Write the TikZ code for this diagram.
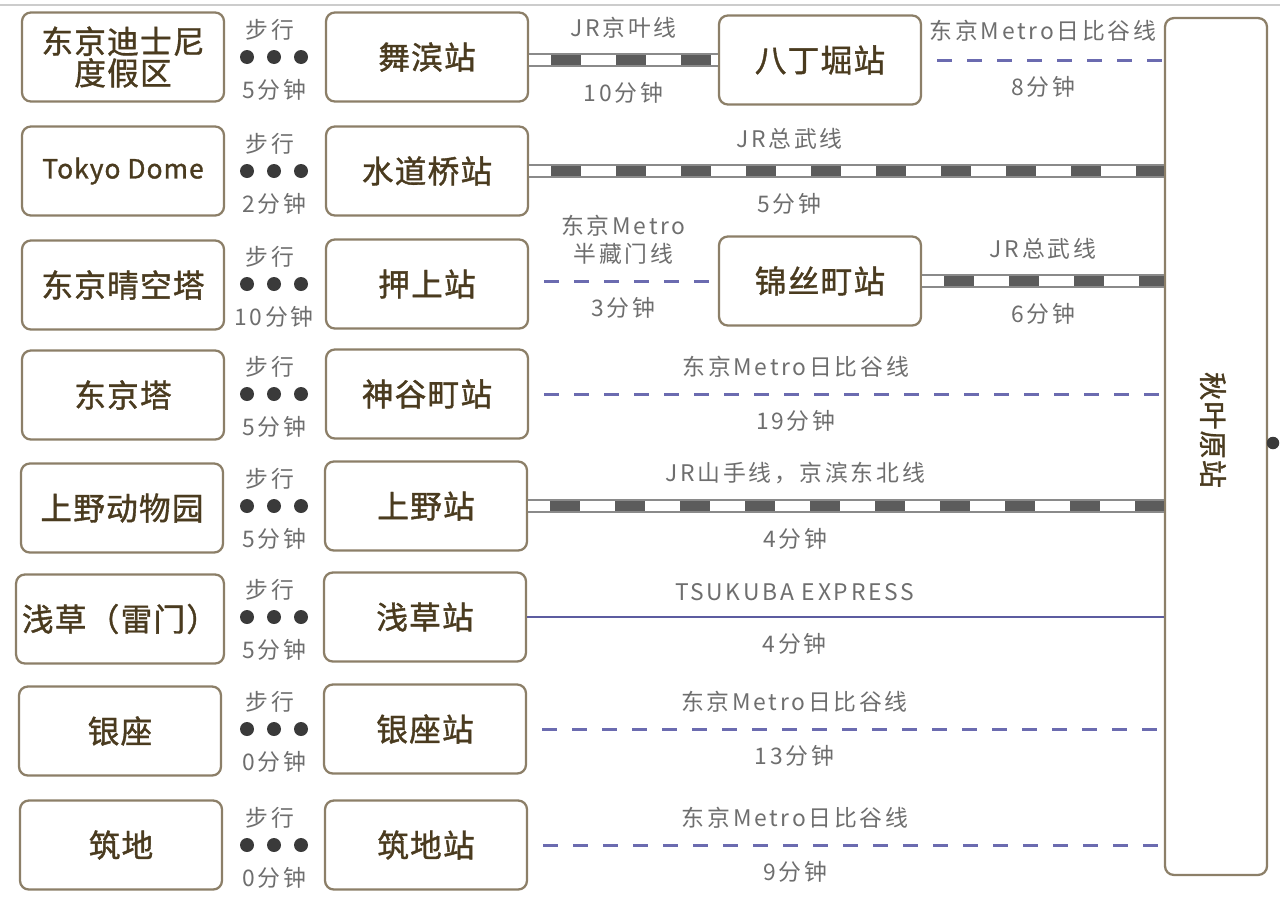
\documentclass[tikz,border=0pt]{standalone}
\usepackage{fontspec}
\setmainfont{Noto Sans CJK SC}
\newfontfamily\boxfont[LetterSpace=4, FakeBold=1.2]{Noto Sans CJK SC}
\newfontfamily\notefont[LetterSpace=12]{Noto Sans CJK SC}
\usetikzlibrary{positioning}

\definecolor{boxline}{HTML}{8C7F68}
\definecolor{boxtext}{HTML}{4A3B1F}
\definecolor{notegray}{HTML}{6E6E6E}
\definecolor{walkgray}{HTML}{3A3A3A}
\definecolor{trackedge}{HTML}{8A8A8A}
\definecolor{trackdark}{HTML}{5C5C5C}
\definecolor{metroblue}{HTML}{6B6BB0}
\definecolor{txblue}{HTML}{5C5CA0}

\tikzset{
  spot/.style={draw=boxline, line width=1.3pt, rounded corners=5pt, fill=white,
    minimum width=4.04cm, minimum height=1.78cm, align=center, text=boxtext,
    font=\boxfont\fontsize{18}{22}\selectfont},
  hub/.style={draw=boxline, line width=1.3pt, rounded corners=5pt, fill=white,
    minimum width=2.04cm, minimum height=17.14cm},
  walkdot/.style={circle, fill=walkgray, inner sep=0pt, minimum size=0.28cm},
  note/.style={text=notegray, inner sep=0pt, font=\notefont\fontsize{13}{16}\selectfont},
  track/.style={draw=trackedge, line width=0.28cm,
    postaction={draw=white, line width=0.2cm},
    postaction={draw=trackdark, line width=0.2cm, dash pattern=on 0.6cm off 0.7cm, dash phase=0.86cm}},
  metro/.style={draw=metroblue, line width=0.06cm, dash pattern=on 0.3cm off 0.3cm, dash phase=0.3cm},
  tx/.style={draw=txblue, line width=0.05cm}
}

\begin{document}
\begin{tikzpicture}[x=0.02cm, y=-0.02cm]
\useasboundingbox (0,0) rectangle (1280,900);
\draw[gray!40, line width=0.04cm] (0,5) -- (1280,5);

% sights
\node[spot] (disney) at (123,57) {东京迪士尼\\[-4pt]度假区};
\node[spot, font=\boxfont\fontsize{15}{18}\selectfont] (dome) at (123,171) {Tokyo Dome};
\node[spot] (tree)   at (123,285) {东京晴空塔};
\node[spot] (tower)  at (123,395) {东京塔};
\node[spot] (zoo)    at (122,508) {上野动物园};
\node[spot] (kaminari) at (120,619) {浅草（雷门）};
\node[spot] (ginza)  at (120,731) {银座};
\node[spot] (tsukiji) at (121,845) {筑地};

% stations
\node[spot] (maihama)   at (427,57) {舞滨站};
\node[spot] (suidobashi) at (427,171) {水道桥站};
\node[spot] (oshiage)   at (427,284) {押上站};
\node[spot] (kamiyacho) at (427,394) {神谷町站};
\node[spot] (ueno)      at (426,506) {上野站};
\node[spot] (asakusa)   at (425,617) {浅草站};
\node[spot] (ginzast)   at (425,729) {银座站};
\node[spot] (tsukijist) at (426,845) {筑地站};

\node[spot] (hatcho) at (820,60) {八丁堀站};
\node[spot] (kinshi) at (820,281) {锦丝町站};

\node[hub] (akiba) at (1216,446.5) {};
\node[rotate=-90, text=boxtext, font=\boxfont\fontsize{16}{20}\selectfont] (akibaname) at (1213,430) {秋叶原站};
\node[walkdot, minimum size=0.25cm] (akibadot) at (1273,443) {};

% walking
\foreach \r/\t in {57/5,171/2,284/10,394/5,506/5,617/5,729/0,845/0} {
  \node[note] (step\r) at (270,\r-27) {步行};
  \node[walkdot] (da\r) at (247,\r) {};
  \node[walkdot] (db\r) at (274,\r) {};
  \node[walkdot] (dc\r) at (301,\r) {};
  \node[note] (time\r) at (274,\r+33) {\t 分钟};
}

% lines
\draw[track] (maihama.east |- hatcho.west) -- (hatcho.west)
  node[note, midway, above=0.3cm] (l1a) {JR京叶线}
  node[note, midway, below=0.3cm] (l1b) {10分钟};
\draw[metro] (hatcho.east) -- (hatcho.east -| akiba.west)
  node[note, midway, above=0.35cm] (l2a) {东京Metro日比谷线}
  node[note, midway, below=0.3cm] (l2b) {8分钟};
\draw[track] (suidobashi.east) -- (suidobashi.east -| akiba.west)
  node[note, pos=0.41, above=0.3cm] (l3a) {JR总武线}
  node[note, pos=0.41, below=0.3cm] (l3b) {5分钟};
\draw[metro] (oshiage.east |- kinshi.west) -- (kinshi.west)
  node[note, midway, above=0.3cm, align=center] (l4a) {东京Metro\\半藏门线}
  node[note, midway, below=0.3cm] (l4b) {3分钟};
\draw[track] (kinshi.east) -- (kinshi.east -| akiba.west)
  node[note, midway, above=0.3cm] (l5a) {JR总武线}
  node[note, midway, below=0.3cm] (l5b) {6分钟};
\draw[metro] (kamiyacho.east) -- (kamiyacho.east -| akiba.west)
  node[note, pos=0.42, above=0.3cm] (l6a) {东京Metro日比谷线}
  node[note, pos=0.42, below=0.3cm] (l6b) {19分钟};
\draw[track] (ueno.east) -- (ueno.east -| akiba.west)
  node[note, pos=0.42, above=0.3cm] (l7a) {JR山手线，京滨东北线}
  node[note, pos=0.42, below=0.3cm] (l7b) {4分钟};
\draw[tx] (asakusa.east) -- (asakusa.east -| akiba.west)
  node[note, pos=0.42, above=0.3cm] (l8a) {TSUKUBA EXPRESS}
  node[note, pos=0.42, below=0.3cm] (l8b) {4分钟};
\draw[metro] (ginzast.east) -- (ginzast.east -| akiba.west)
  node[note, pos=0.42, above=0.3cm] (l9a) {东京Metro日比谷线}
  node[note, pos=0.42, below=0.3cm] (l9b) {13分钟};
\draw[metro] (tsukijist.east) -- (tsukijist.east -| akiba.west)
  node[note, pos=0.42, above=0.3cm] (l10a) {东京Metro日比谷线}
  node[note, pos=0.42, below=0.3cm] (l10b) {9分钟};

\end{tikzpicture}
\end{document}
